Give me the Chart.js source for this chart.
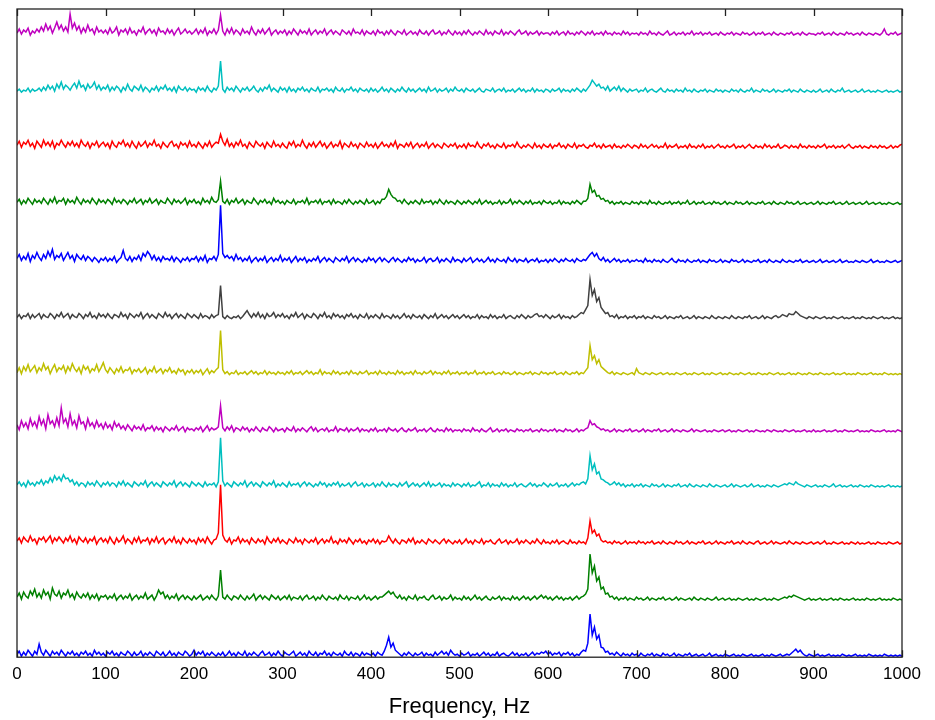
<!DOCTYPE html>
<html>
<head>
<meta charset="utf-8">
<script src="https://cdn.jsdelivr.net/npm/chart.js@4.4.1/dist/chart.umd.min.js"></script>
<style>
  html, body { margin: 0; padding: 0; background: #fff; }
  canvas { display: block; }
</style>
</head>
<body>
<canvas id="spectra" width="935" height="720"></canvas>
<script>
// amplitude spectra, one sample every 2.5 Hz (0..1000 Hz), top trace first
const step = 2.5;
const freqTicks = [0, 100, 200, 300, 400, 500, 600, 700, 800, 900, 1000];

const spec1 = [
    3,7,2,6,4,8,1,5,3,7, 4,9,5,12,6,10,3,8,14,7, 11,5,9,4,22,8,13,6,10,3, 8,4,11,5,7,2,9,4,6,3,
    6,2,8,3,5,9,1,6,4,7, 2,8,3,5,1,6,4,9,2,5, 7,3,6,1,8,4,5,2,7,3, 6,1,5,8,2,4,7,3,5,2,
    4,7,2,6,3,8,1,5,3,7, 2,6,21,5,1,7,3,8,2,6, 4,1,7,3,5,2,9,4,1,6, 3,7,2,5,8,1,4,6,2,5,
    3,6,1,5,2,7,4,1,6,3, 5,2,7,1,4,6,2,5,3,7, 1,4,6,2,5,3,1,6,4,2, 5,1,7,3,4,2,6,1,5,3,
    2,5,1,6,3,4,1,5,2,6, 3,1,5,4,2,6,1,3,5,2, 4,1,6,3,2,5,1,4,6,2, 3,5,1,4,2,6,3,1,5,2,
    4,1,5,2,6,3,1,4,2,5, 3,1,6,2,4,1,5,3,2,6, 1,4,2,5,3,1,4,6,2,3, 5,1,4,2,3,5,1,4,2,3,
    3,1,4,2,5,1,3,4,1,5, 2,3,1,4,2,5,3,1,4,2, 5,1,3,2,4,1,5,2,3,1, 4,2,3,1,5,2,4,1,3,2,
    3,1,4,2,3,1,5,2,3,1, 4,2,1,3,5,1,2,4,1,3, 2,4,1,3,2,5,1,3,2,4, 1,3,2,4,1,2,3,1,4,2,
    1,3,2,4,1,3,2,1,4,2, 3,1,2,4,1,3,2,4,1,2, 3,1,4,2,1,3,2,1,3,2, 4,1,2,3,1,4,2,1,3,2,
    2,1,3,2,4,1,2,3,1,4, 2,1,3,2,1,4,2,3,1,2, 3,1,4,2,1,3,2,1,3,2, 1,3,7,2,1,3,2,4,1,2, 3
];
const spec2 = [
    2,4,1,3,2,5,1,4,2,3, 5,2,6,3,8,4,7,2,9,5, 11,4,8,6,3,7,10,5,12,6, 8,3,9,5,7,11,4,8,3,6,
    4,8,2,6,3,7,5,1,6,3, 9,4,2,7,5,3,8,2,6,4, 1,5,3,7,2,6,4,8,3,5, 2,6,1,7,4,3,6,2,5,3,
    4,1,6,3,5,2,7,3,1,5, 3,7,32,4,1,6,3,5,2,7, 4,1,5,3,6,2,4,7,3,1, 5,2,6,4,8,2,5,3,1,6,
    3,5,1,6,2,4,1,5,3,6, 2,4,1,5,3,2,6,1,4,3, 5,2,4,1,6,3,2,5,1,4, 3,6,2,4,1,5,3,2,4,1,
    5,2,4,1,3,6,2,4,1,5, 3,1,4,2,6,3,1,5,2,4, 1,3,5,2,4,1,6,2,3,5, 1,4,2,3,5,1,4,2,6,3,
    2,4,1,5,3,2,4,1,3,5, 2,1,4,3,2,5,1,3,4,2, 5,1,3,2,4,1,3,5,2,4, 1,3,2,5,1,4,2,3,1,4,
    3,1,4,2,3,5,1,4,2,3, 1,4,2,5,3,1,4,2,5,8, 13,10,7,9,5,6,3,7,2,4, 6,3,7,2,5,3,1,4,2,3,
    4,1,3,2,5,1,3,4,2,1, 3,5,2,1,4,2,3,1,4,2, 3,1,5,2,3,1,4,2,1,3, 2,4,1,3,2,1,4,2,3,1,
    3,2,1,4,2,3,1,4,2,1, 3,2,5,1,3,2,1,4,2,3, 1,2,4,1,3,2,1,3,2,4, 1,3,2,1,4,2,1,3,2,1,
    3,1,2,4,1,2,3,1,4,2, 1,3,2,5,1,2,3,1,2,3, 1,2,4,1,2,3,1,2,1,3, 2,1,2,3,1,2,1,2,3,1, 2
];
const spec3 = [
    4,8,2,7,5,9,3,6,1,8, 5,2,9,4,7,3,8,1,6,4, 9,5,2,7,4,8,3,6,2,9, 5,3,7,1,6,4,8,2,5,7,
    3,6,1,8,4,2,7,5,9,3, 6,2,8,4,1,7,3,5,8,2, 6,4,9,3,5,1,7,4,2,6, 8,3,5,1,7,4,6,2,8,3,
    5,2,7,4,1,6,3,8,2,5, 7,6,15,8,4,10,3,6,2,7, 4,9,3,5,1,7,4,2,8,5, 3,6,1,7,4,2,8,3,5,2,
    6,3,1,7,4,8,2,5,3,9, 4,1,6,3,7,2,5,8,3,6, 1,4,7,2,5,3,8,1,6,4, 2,7,3,5,1,6,4,2,7,3,
    5,2,6,1,4,7,3,5,2,6, 3,8,1,5,4,2,6,3,7,1, 4,6,2,5,3,7,1,4,6,2, 5,3,1,6,4,2,5,3,6,1,
    4,2,5,1,6,3,4,2,7,3, 1,5,3,6,2,4,1,5,3,2, 6,1,4,3,5,2,7,3,1,4, 2,5,3,1,6,2,4,1,5,3,
    2,5,1,4,3,6,2,4,1,5, 3,2,6,1,4,3,5,2,1,4, 3,6,2,4,1,5,2,3,4,1, 5,2,3,1,4,2,5,3,1,4,
    3,1,5,2,4,1,3,5,2,4, 1,3,2,6,1,4,2,3,5,1, 3,2,4,1,5,2,3,1,4,2, 5,1,3,2,4,1,3,5,2,3,
    1,4,2,3,5,1,3,2,4,1, 3,5,2,1,4,2,3,1,5,2, 4,1,3,2,5,1,2,4,3,1, 4,2,3,1,5,2,3,1,4,2,
    3,1,4,2,3,5,1,3,2,4, 1,3,2,4,1,3,5,2,1,3, 2,4,1,3,2,1,4,2,3,1, 4,2,3,1,2,4,1,3,2,4, 5
];
const spec4 = [
    3,6,1,5,2,7,4,1,6,3, 5,2,7,4,1,6,3,8,2,5, 4,7,1,6,3,5,2,8,4,1, 6,3,5,2,7,4,1,6,3,5,
    2,6,4,1,7,3,5,2,6,4, 1,5,3,7,2,4,6,1,5,3, 7,2,4,6,1,5,3,2,7,4, 1,6,3,5,2,4,7,1,5,3,
    6,2,4,1,7,3,5,2,8,4, 3,6,24,4,2,6,1,5,3,7, 2,4,6,1,5,3,2,7,4,1, 5,3,6,2,4,1,7,3,5,2,
    4,1,5,3,2,6,1,4,3,5, 2,7,1,4,3,5,2,6,1,4, 3,5,1,6,2,4,3,1,5,2, 6,3,1,4,2,5,3,1,6,2,
    3,5,1,4,2,6,6,9,16,11, 8,7,4,5,2,6,3,1,4,2, 5,3,1,6,2,4,3,5,1,4, 2,6,3,1,5,2,4,3,1,5,
    3,1,4,2,5,3,1,4,2,6, 1,3,5,2,4,1,3,2,5,1, 4,2,3,6,1,4,2,5,3,1, 4,2,5,1,3,2,4,1,5,3,
    2,4,1,3,2,5,1,4,2,3, 1,4,2,5,3,1,4,4,7,21, 13,15,9,10,6,7,4,5,2,4, 1,3,2,4,1,3,2,1,4,2,
    3,1,4,2,3,1,5,2,3,1, 4,2,1,3,2,4,1,3,2,4, 1,3,2,5,1,2,4,1,3,2, 4,1,2,3,1,4,2,3,1,2,
    4,1,3,2,1,4,2,3,1,2, 4,1,3,2,1,3,2,4,1,2, 3,1,4,2,1,3,2,1,4,2, 3,1,2,4,1,2,3,1,2,3,
    1,2,4,1,3,2,1,3,2,4, 1,2,3,1,2,4,1,2,3,1, 2,3,1,2,4,1,2,3,1,2, 3,1,2,1,3,2,1,2,3,1, 2
];
const spec5 = [
    5,9,3,7,4,10,2,8,5,11, 6,3,9,5,12,7,14,4,8,6, 10,3,7,11,5,8,2,9,6,4, 8,3,7,5,2,6,4,1,5,3,
    6,2,5,3,7,1,4,6,13,5, 3,7,2,6,4,8,3,10,7,12, 9,4,8,3,6,2,7,4,5,3, 7,2,6,4,1,5,3,6,2,5,
    4,7,2,6,3,8,1,5,4,7, 3,9,58,10,6,8,5,7,3,9, 4,6,2,5,3,7,1,4,6,2, 5,3,7,1,4,6,2,5,3,8,
    2,5,3,6,1,4,7,2,5,3, 6,1,4,2,5,3,7,1,4,6, 2,5,3,1,6,4,2,5,3,7, 1,4,6,2,5,3,1,4,2,6,
    3,5,1,4,6,2,5,3,1,4, 6,2,5,3,1,4,2,6,3,5, 1,4,2,3,6,1,4,5,2,3, 6,1,4,2,5,3,1,6,2,4,
    3,1,5,2,4,6,1,3,5,2, 4,1,3,6,2,4,1,5,3,2, 4,1,6,3,2,5,1,4,3,2, 5,1,3,4,2,5,1,3,2,4,
    1,4,2,5,3,1,4,2,5,3, 2,4,1,5,3,2,4,3,6,9, 11,7,10,5,3,6,2,4,1,3, 5,2,4,1,3,2,4,1,3,2,
    4,2,3,1,5,2,3,1,4,2, 3,1,4,2,1,3,5,2,1,4, 2,3,1,4,2,1,3,2,4,1, 3,2,1,4,2,3,1,2,4,1,
    3,2,1,4,2,3,1,2,4,1, 3,2,1,3,2,4,1,2,3,1, 4,2,1,3,2,1,4,2,1,3, 2,1,3,2,4,1,2,3,1,2,
    3,1,2,4,1,2,3,1,2,3, 1,2,4,1,2,3,1,2,1,3, 2,1,3,2,1,2,4,1,2,3, 1,2,1,3,2,1,2,3,1,2, 3
];
const spec6 = [
    2,5,1,4,3,6,1,5,2,4, 6,1,5,3,2,6,4,1,5,3, 7,2,4,6,1,5,3,2,6,4, 1,5,3,7,2,4,1,6,3,5,
    2,6,3,1,5,4,2,7,3,5, 1,6,4,2,5,3,7,1,4,6, 2,5,3,1,6,4,2,7,3,5, 1,4,6,2,5,3,1,6,4,2,
    5,3,1,6,2,4,3,1,5,2, 4,5,34,3,1,4,2,1,3,2, 4,1,3,6,9,5,2,6,3,7, 2,5,1,6,3,4,7,2,5,3,
    6,2,4,1,5,3,7,2,4,6, 1,5,3,2,6,4,1,5,3,7, 2,4,1,6,3,5,2,4,1,5, 3,6,2,4,1,5,3,2,6,1,
    4,2,5,3,1,6,2,4,3,1, 5,2,4,1,3,6,2,4,1,5, 3,2,4,1,5,3,1,4,2,6, 1,3,5,2,4,1,3,5,2,4,
    1,3,5,2,4,1,3,2,5,1, 4,2,3,1,5,2,4,1,3,2, 5,1,3,4,2,1,4,2,5,3, 1,4,2,3,5,6,3,4,2,5,
    3,1,4,2,3,5,1,4,2,3, 1,4,2,3,5,7,6,10,14,40, 24,30,18,22,12,9,6,7,3,4, 2,5,1,3,2,4,1,3,2,4,
    1,3,2,4,1,3,2,1,4,2, 3,1,2,4,1,3,2,1,3,2, 4,1,2,3,1,2,4,1,3,2, 1,3,2,1,4,2,1,3,2,1,
    3,2,1,4,2,1,3,2,1,3, 2,4,1,2,3,1,2,4,1,3, 2,1,3,4,2,3,5,4,3,6, 5,5,8,6,4,3,2,1,3,2,
    1,3,2,1,2,3,1,2,1,3, 2,1,2,3,1,2,1,2,3,1, 2,1,3,2,1,2,1,3,2,1, 2,3,1,2,1,2,3,1,2,1, 2
];
const spec7 = [
    3,8,2,9,5,11,4,7,10,3, 8,5,12,6,9,2,7,11,4,8, 6,10,3,9,5,12,7,4,8,2, 10,6,9,3,7,5,11,4,8,13,
    6,3,8,5,2,7,4,9,3,6, 5,8,2,6,4,7,3,5,8,2, 6,4,9,3,5,7,2,6,4,8, 3,5,2,7,4,6,1,5,3,6,
    2,5,3,6,1,4,7,2,5,3, 6,8,45,6,2,4,1,3,2,5, 1,3,2,4,1,3,5,2,4,1, 3,2,5,1,4,2,3,1,4,2,
    3,1,4,2,5,1,3,2,4,1, 3,5,2,4,1,3,2,6,1,4, 2,3,1,5,2,4,1,3,2,4, 1,5,2,3,1,4,2,3,5,1,
    3,2,4,1,5,2,3,1,4,2, 3,1,5,2,4,1,3,2,4,1, 5,2,3,1,4,2,3,5,1,4, 2,3,1,4,2,5,1,3,2,4,
    1,3,2,4,1,3,2,5,1,3, 2,4,1,3,2,4,1,2,3,1, 4,2,3,1,2,4,1,3,2,1, 3,2,4,1,3,2,1,4,2,3,
    1,3,2,4,1,2,3,1,4,2, 1,3,2,4,1,3,2,5,8,30, 16,20,12,16,9,7,5,3,2,4, 1,3,2,1,3,2,1,2,3,1,
    7,3,2,1,3,2,1,3,2,1, 2,3,1,2,3,1,2,1,3,2, 1,2,3,1,2,1,3,2,1,2, 3,1,2,1,3,2,1,2,3,1,
    2,1,3,2,1,2,1,3,2,1, 2,3,1,2,1,3,2,1,2,1, 3,2,1,2,3,1,2,1,2,3, 1,2,1,3,2,1,2,1,3,2,
    1,2,1,3,2,1,2,1,2,3, 1,2,1,2,3,1,2,1,2,1, 3,2,1,2,1,2,3,1,2,1, 2,1,3,2,1,2,1,2,1,2, 1
];
const spec8 = [
    8,3,12,6,10,4,14,7,11,5, 16,8,13,4,18,9,12,6,15,7, 25,10,14,6,19,8,12,5,17,9, 11,4,14,7,10,5,12,6,9,4,
    10,5,8,3,11,6,9,4,7,3, 8,5,2,7,4,6,3,8,2,5, 4,7,2,6,3,5,1,6,4,2, 5,3,7,2,4,6,1,5,3,4,
    2,5,3,6,1,4,7,2,5,3, 4,6,27,5,2,6,3,7,1,5, 4,2,6,3,5,1,4,2,6,3, 1,5,3,2,6,4,1,5,2,3,
    4,1,5,3,2,6,1,4,2,5, 3,1,4,6,2,5,1,3,4,2, 5,1,3,2,6,1,4,3,2,5, 1,4,2,3,5,1,4,2,3,1,
    4,2,5,1,3,2,4,1,5,3, 2,4,1,3,5,2,1,4,2,3, 5,1,3,2,4,1,3,5,2,1, 4,2,3,1,5,2,4,1,3,2,
    3,1,4,2,3,1,5,2,3,1, 4,2,1,3,5,1,2,4,1,3, 2,4,1,3,2,1,4,2,3,1, 3,2,4,1,2,3,1,4,2,3,
    1,3,2,4,1,3,2,1,4,2, 3,1,2,4,1,3,2,4,5,12, 8,9,6,5,3,4,2,3,1,2, 4,1,3,2,1,3,2,4,1,2,
    3,1,2,4,1,3,2,1,3,2, 4,1,2,3,1,2,4,1,3,2, 1,3,2,1,2,4,1,3,2,1, 2,3,1,2,1,3,2,1,2,3,
    1,2,3,1,2,1,3,2,1,2, 3,1,2,1,3,2,1,2,1,3, 2,1,3,2,1,2,1,3,2,1, 2,3,1,2,1,2,3,1,2,1,
    3,1,2,1,2,3,1,2,1,2, 3,1,2,1,3,2,1,2,1,2, 3,1,2,1,2,1,3,2,1,2, 1,2,3,1,2,1,2,1,3,2, 1
];
const spec9 = [
    3,6,2,5,1,7,3,5,2,6, 4,8,3,7,5,10,6,12,8,11, 7,13,9,10,6,8,3,6,2,5, 4,1,6,3,5,2,7,4,1,5,
    3,6,2,5,4,1,6,3,7,2, 5,3,1,6,4,2,5,3,7,1, 4,6,2,5,3,1,6,4,2,5, 3,7,1,4,6,2,5,3,1,6,
    4,2,5,3,1,6,2,4,3,5, 1,6,50,7,2,5,3,1,6,4, 2,5,3,7,1,4,6,2,5,3, 1,6,4,2,5,3,7,1,4,2,
    5,3,1,6,2,4,3,5,1,4, 6,2,5,3,1,4,2,6,3,5, 1,4,2,5,3,6,1,4,2,3, 5,1,4,6,2,3,5,1,4,2,
    3,5,1,4,2,6,3,1,5,2, 4,3,1,5,2,4,6,1,3,5, 2,4,1,3,5,2,6,1,4,2, 3,5,1,4,2,3,1,5,2,4,
    3,1,4,2,5,1,3,2,4,6, 1,3,2,5,1,4,2,3,1,5, 2,4,1,3,2,5,1,3,4,2, 1,3,5,2,4,1,3,2,5,3,
    1,4,2,3,5,1,3,2,4,1, 3,5,2,4,3,5,6,4,9,32, 18,24,14,16,9,8,6,5,3,4, 6,3,5,2,4,1,3,2,4,1,
    3,2,4,1,3,2,1,4,2,3, 1,2,4,1,3,2,1,3,2,4, 1,2,3,1,4,2,1,3,2,1, 3,2,1,4,2,1,3,2,1,2,
    3,1,2,4,1,3,2,1,2,3, 1,2,4,1,2,3,1,2,1,3, 2,1,3,2,1,2,3,4,3,5, 4,3,6,4,3,2,1,3,2,1,
    2,3,1,2,1,3,2,1,2,4, 1,2,3,1,2,1,2,3,1,2, 1,3,2,1,2,1,3,2,1,2, 1,2,1,2,3,1,2,1,2,1, 2
];
const spec10 = [
    4,7,2,8,5,3,9,4,6,1, 7,5,8,3,6,9,2,7,4,8, 5,2,7,4,9,3,6,1,8,5, 3,7,2,6,4,8,1,5,7,3,
    6,2,8,4,1,7,3,5,9,2, 6,4,1,7,3,8,2,5,4,7, 1,6,3,8,2,5,7,1,4,6, 3,8,2,5,1,7,4,2,6,3,
    5,1,7,3,6,2,8,4,1,5, 6,12,60,10,5,3,7,1,5,4, 8,2,6,3,5,1,7,4,2,6, 3,5,1,8,4,2,6,3,7,2,
    5,3,1,6,4,2,7,3,5,1, 6,4,2,5,3,7,1,4,6,2, 5,3,8,2,4,1,6,3,5,2, 7,4,1,5,3,6,2,4,1,5,
    3,6,2,5,1,4,3,4,9,5, 2,6,3,1,5,4,2,6,3,7, 1,4,2,5,3,1,6,4,2,5, 3,1,4,6,2,5,3,1,4,2,
    5,1,3,6,2,4,1,5,3,2, 6,1,4,3,5,2,1,4,6,2, 3,5,1,4,2,3,6,1,4,2, 5,3,1,4,2,6,3,1,5,2,
    3,1,4,2,5,1,3,4,2,1, 5,2,3,1,4,2,3,1,7,24, 12,15,9,11,5,3,4,2,3,1, 4,2,3,1,2,4,1,3,2,3,
    1,4,2,3,1,3,2,4,1,2, 3,1,4,2,1,3,2,1,4,2, 3,1,2,4,1,3,2,1,3,2, 4,1,2,3,1,2,4,1,3,2,
    1,3,2,4,1,2,3,1,4,2, 1,3,2,1,3,4,1,2,3,1, 2,4,1,3,2,1,2,3,1,4, 2,1,3,2,1,3,2,1,2,3,
    1,2,3,1,2,4,1,2,1,3, 2,1,2,3,1,2,1,3,2,1, 3,1,2,1,2,3,1,2,1,3, 2,1,2,1,3,2,1,2,3,1, 2
];
const spec11 = [
    4,8,2,9,5,3,10,6,12,4, 8,3,11,6,9,2,13,7,5,10, 3,8,6,11,4,7,2,9,5,3, 7,4,8,2,6,3,7,1,5,4,
    6,2,5,3,7,1,4,6,2,5, 3,7,1,4,6,2,5,3,8,2, 4,6,1,5,11,7,9,3,6,2, 5,3,7,1,4,6,2,5,3,1,
    5,2,4,6,1,3,5,2,6,3, 1,5,31,4,2,6,3,1,5,4, 2,6,3,1,5,2,4,7,1,4, 6,2,5,3,1,6,4,2,5,1,
    3,5,2,6,1,4,3,2,5,1, 4,6,2,3,5,1,4,2,6,3, 1,5,3,2,4,1,6,3,2,5, 1,4,3,2,5,1,3,6,2,4,
    1,3,5,2,4,4,6,8,10,7, 9,5,3,6,2,4,1,5,3,2, 6,1,4,3,5,2,1,4,6,2, 3,5,1,4,2,3,6,1,4,2,
    3,1,5,2,4,1,3,6,2,4, 1,3,5,2,1,4,2,3,5,1, 4,2,3,1,5,2,4,1,3,5, 2,4,1,3,5,2,4,6,3,5,
    2,4,1,3,5,2,4,1,3,2, 4,1,3,5,2,4,5,7,12,47, 28,35,20,24,12,14,7,8,4,5, 2,4,1,3,2,4,1,3,2,1,
    4,2,3,1,2,4,1,3,2,1, 3,2,4,1,2,3,1,2,4,1, 3,2,1,2,3,1,4,2,1,3, 2,1,3,2,1,2,4,1,2,3,
    1,2,3,1,2,1,3,2,1,2, 3,1,2,1,3,2,1,2,3,1, 2,1,3,2,1,2,3,4,3,5, 4,6,5,4,3,2,1,2,3,1,
    2,1,2,3,1,2,1,2,3,1, 2,1,3,2,1,2,1,2,3,1, 2,1,2,1,3,2,1,2,1,2, 3,1,2,1,2,1,3,2,1,2, 1
];
const spec12 = [
    3,6,1,5,2,7,4,1,6,3, 13,5,2,7,4,1,6,3,5,2, 7,4,1,5,3,6,2,4,1,5, 3,6,2,4,1,7,3,5,2,4,
    1,5,3,6,2,4,1,5,3,2, 6,4,1,5,2,3,6,1,4,2, 5,3,1,6,4,2,5,1,3,6, 2,4,1,5,3,2,6,4,1,3,
    7,2,5,3,6,1,4,2,5,3, 1,4,2,5,1,3,6,2,4,1, 5,3,2,6,1,4,2,5,3,1, 4,6,2,3,5,1,4,2,6,3,
    1,5,3,2,4,6,1,3,5,2, 4,1,6,3,2,5,1,4,3,6, 2,4,1,5,3,2,4,1,6,3, 2,5,1,4,3,1,5,2,4,3,
    2,4,1,5,3,2,6,12,20,10, 14,7,5,3,1,4,2,5,3,1, 4,2,3,5,1,4,2,3,1,5, 2,4,6,3,5,2,7,4,2,3,
    1,4,2,3,5,1,3,2,4,1, 3,5,2,4,1,3,2,5,1,3, 4,2,1,3,5,2,4,1,3,2, 4,1,3,5,2,4,3,5,4,6,
    3,5,2,4,3,5,1,4,3,5, 2,4,1,3,2,5,7,6,14,43, 22,30,18,22,10,9,5,6,3,4, 2,5,3,1,4,2,3,1,4,2,
    3,1,4,2,1,3,2,4,1,3, 2,1,4,2,3,1,2,4,1,3, 2,1,3,2,4,1,2,3,1,2, 3,1,2,4,1,2,3,1,2,1,
    3,2,1,2,3,1,2,1,3,2, 1,2,3,1,2,1,2,3,1,2, 1,3,2,1,2,3,1,2,3,2, 4,6,8,5,7,4,2,1,3,2,
    1,2,3,1,2,1,2,3,1,2, 1,2,1,3,2,1,2,1,2,3, 1,2,1,2,1,3,2,1,2,1, 2,1,3,2,1,2,1,2,1,2, 1
];

// vertical shift of each trace so they stack, top trace first
const offsets = [620, 563, 507, 451, 393, 337, 281, 224, 169, 112, 56, 0];
const colors = ['#bf00bf', '#00bfbf', '#ff0000', '#008000', '#0000ff', '#404040',
                '#bfbf00', '#bf00bf', '#00bfbf', '#ff0000', '#008000', '#0000ff'];

const spectra = [spec1, spec2, spec3, spec4, spec5, spec6,
                 spec7, spec8, spec9, spec10, spec11, spec12];

const datasets = spectra.map((s, k) => ({
    data: s.map((v, i) => ({ x: i * step, y: v + offsets[k] })),
    borderColor: colors[k],
    borderWidth: 1.5,
    pointRadius: 0,
    tension: 0,
    fill: false
}));

// box around the plot with short inward ticks top and bottom
const frame = {
    id: 'frame',
    afterDatasetsDraw(chart) {
        const { ctx, chartArea: a, scales: { x } } = chart;
        ctx.save();
        ctx.strokeStyle = '#222';
        ctx.lineWidth = 1.3;
        ctx.strokeRect(a.left, a.top, a.right - a.left, a.bottom - a.top);
        ctx.beginPath();
        freqTicks.forEach(v => {
            const px = Math.round(x.getPixelForValue(v)) + 0.5;
            ctx.moveTo(px, a.top);
            ctx.lineTo(px, a.top + 7);
            ctx.moveTo(px, a.bottom);
            ctx.lineTo(px, a.bottom - 7);
        });
        ctx.stroke();
        ctx.restore();
    }
};

new Chart(document.getElementById('spectra'), {
    type: 'line',
    data: { datasets: datasets },
    options: {
        responsive: false,
        animation: false,
        events: [],
        layout: { padding: { left: 17, right: 33, top: 9, bottom: 0 } },
        plugins: {
            legend: { display: false },
            tooltip: { enabled: false }
        },
        scales: {
            x: {
                type: 'linear',
                min: 0,
                max: 1000,
                afterBuildTicks: s => { s.ticks = freqTicks.map(v => ({ value: v })); },
                grid: { display: false, drawTicks: false, tickLength: 0 },
                border: { display: false },
                ticks: {
                    color: '#000',
                    padding: 7,
                    maxRotation: 0,
                    callback: v => String(v),
                    font: { family: 'Liberation Sans, Arial, sans-serif', size: 17 }
                },
                title: {
                    display: true,
                    text: 'Frequency, Hz',
                    color: '#000',
                    padding: { top: 2, bottom: 0 },
                    font: { family: 'Liberation Sans, Arial, sans-serif', size: 22 }
                }
            },
            y: {
                type: 'linear',
                min: 0,
                max: 647,
                display: false
            }
        }
    },
    plugins: [frame]
});
</script>
</body>
</html>
